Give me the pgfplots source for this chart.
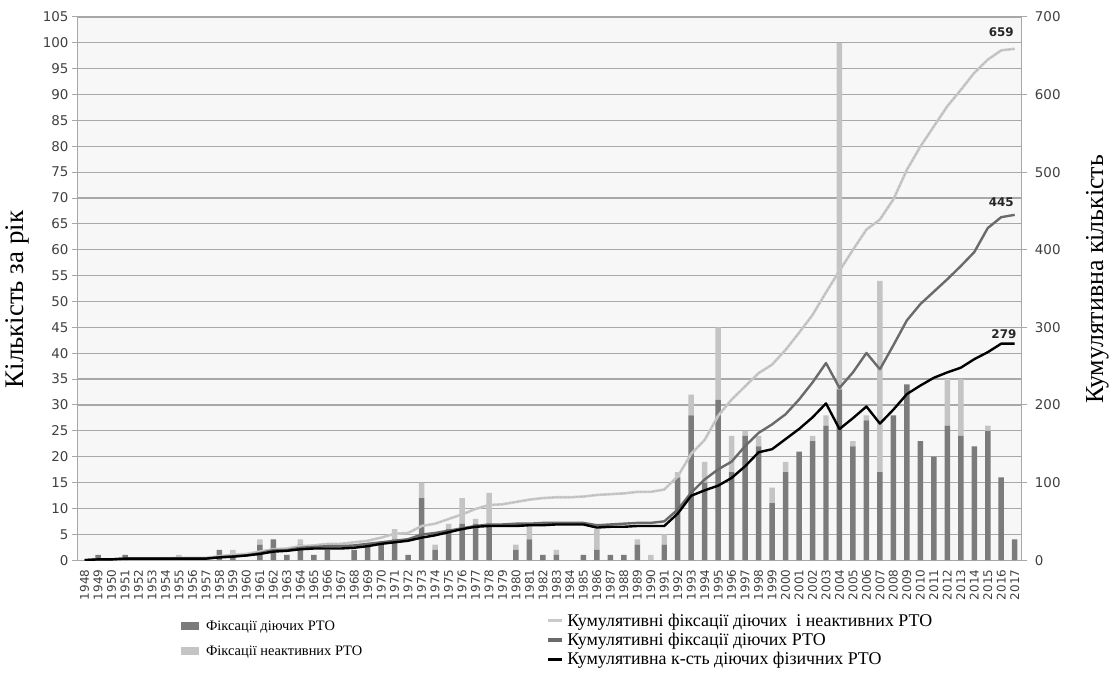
\documentclass[border=0pt]{standalone}
\usepackage{fontspec}
\setmainfont{Liberation Serif}
\newfontfamily\dv{DejaVu Sans}
\usepackage{pgfplots}
\usepackage{pgfplotstable}
\pgfplotsset{compat=1.18}

\definecolor{actc}{HTML}{7B7B7B}
\definecolor{inac}{HTML}{C4C4C4}
\definecolor{bgc}{HTML}{F7F7F7}
\definecolor{gridc}{HTML}{A8A8A8}
\definecolor{lcum}{HTML}{C9C9C9}
\definecolor{dcum}{HTML}{6A6A6A}

% year, active, inactive (per year)
\pgfplotstableread{
year act inact
1948 0 0
1949 1 0
1950 0 0
1951 1 0
1952 0 0
1953 0 0
1954 0 0
1955 0 1
1956 0 0
1957 0 0
1958 2 0
1959 1 1
1960 0 0
1961 3 1
1962 4 0
1963 1 0
1964 3 1
1965 1 0
1966 2 0
1967 0 0
1968 2 0
1969 3 0
1970 3 0
1971 4 2
1972 1 0
1973 12 3
1974 2 1
1975 6 1
1976 7 5
1977 7 1
1978 7 6
1979 0 0
1980 2 1
1981 4 3
1982 1 0
1983 1 1
1984 0 0
1985 1 0
1986 2 4
1987 1 0
1988 1 0
1989 3 1
1990 0 1
1991 3 2
1992 16 1
1993 28 4
1994 15 4
1995 31 14
1996 17 7
1997 24 1
1998 22 2
1999 11 3
2000 17 2
2001 21 0
2002 23 1
2003 26 2
2004 33 67
2005 22 1
2006 27 1
2007 17 37
2008 28 0
2009 34 0
2010 23 0
2011 20 0
2012 26 9
2013 24 11
2014 22 0
2015 25 1
2016 16 0
2017 4 0
}\bars

% cumulative series (right axis)
\pgfplotstableread{
year all act phys
1948 0 0 0
1949 1 1 1
1950 1 1 1
1951 2 2 2
1952 2 2 2
1953 2 2 2
1954 2 2 2
1955 3 2 2
1956 3 2 2
1957 3 2 2
1958 5 4 3.5
1959 7 5 4.5
1960 8 6 6
1961 11 9 8
1962 14 13 11
1963 15 13 12
1964 18 16 14
1965 19 17 15
1966 21 18 15
1967 21 18 15
1968 23 19 16
1969 25 21 18
1970 29 23 21
1971 34 25 23
1972 35 27 25
1973 44 33 29
1974 47 35 32
1975 53 38 36
1976 59 41 40
1977 66 44 43
1978 71 46 44
1979 72 46 44
1980 75 47 44
1981 78 47 45
1982 80 48 45
1983 81 48 46
1984 81 48 46
1985 82 48 46
1986 84 45 42
1987 85 46 43
1988 86 47 43
1989 88 48 44
1990 88 48 44
1991 91 50 44
1992 108 65 60
1993 137 87 83
1994 155 104 90
1995 186 117 96
1996 207 127 106
1997 224 147 121
1998 241 164 139
1999 252 175 143
2000 271 188 156
2001 293 207 169
2002 316 229 184
2003 345 254 202
2004 373 222 169
2005 400 242 183
2006 426 267 198
2007 439 246 176
2008 465 277 194
2009 503 309 214
2010 533 330 225
2011 559 346 235
2012 585 362 242
2013 606 379 248
2014 628 397 259
2015 645 428 268
2016 657 442 279
2017 659 445 279
}\cums

\pgfplotsset{
  common/.style={
    scale only axis, width=945bp, height=544bp,
    xmin=1947.5, xmax=2017.5,
    /pgf/number format/assume math mode=true,
    ticklabel style={font=\dv\fontsize{13.5}{15}\selectfont, text=black!75},
    tick style={gridc, line width=1bp},
    tick align=outside,
    major tick length=6bp,
    axis line style={gridc, line width=1.2bp},
  },
}

\begin{document}
\begin{tikzpicture}
\begin{axis}[common, name=main,
  ymin=0, ymax=105, ytick={0,5,...,105},
  ytick pos=left,
  ymajorgrids, grid style={gridc, line width=1.2bp},
  axis background/.style={fill=bgc},
  xtick=data,
  x tick label style={rotate=90, anchor=east, font=\dv\fontsize{12}{13}\selectfont,
    /pgf/number format/1000 sep=},
  xtick pos=bottom,
  xtick style={draw=none},
  minor xtick={1947.5,1948.5,...,2017.5},
  minor tick length=5bp,
  minor tick style={gridc, line width=1bp},
  ybar stacked, bar width=5.5bp,
  legend style={at={(axis description cs:0.106,-0.104)}, anchor=north west,
    draw=none, fill=none, font=\fontsize{14.5}{16}\selectfont,
    row sep=10bp, cells={anchor=west}},
]
  \addplot[fill=actc, draw=none,
    legend image code/.code={\fill[actc] (0bp,-4bp) rectangle (18bp,4bp); \path (23bp,0bp);}]
    table[x=year, y=act] {\bars};
  \addlegendentry{Фіксації діючих РТО}
  \addplot[fill=inac, draw=none,
    legend image code/.code={\fill[inac] (0bp,-4bp) rectangle (18bp,4bp); \path (23bp,0bp);}]
    table[x=year, y=inact] {\bars};
  \addlegendentry{Фіксації неактивних РТО}
\end{axis}

\begin{axis}[common,
  ymin=0, ymax=700, ytick={0,100,...,700},
  axis y line*=right, axis x line=none,
  y tick label style={xshift=4bp},
  legend style={at={(axis description cs:0.493,-0.091)}, anchor=north west,
    draw=none, fill=none, font=\fontsize{18}{19}\selectfont,
    row sep=1.5bp, cells={anchor=west}},
]
  \addplot[lcum, line width=2.6bp, line join=round,
    legend image code/.code={\draw[lcum, line width=3.5bp] (0bp,0bp) -- (14bp,0bp); \path (16bp,0bp);}]
    table[x=year, y=all] {\cums};
  \addlegendentry{Кумулятивні фіксації діючих\ \ і неактивних РТО}
  \addplot[gray!65, line width=0.4bp, dash pattern=on 2bp off 2bp, forget plot]
    table[x=year, y=all] {\cums};
  \addplot[dcum, line width=2.4bp, line join=round,
    legend image code/.code={\draw[dcum, line width=3.5bp] (0bp,0bp) -- (14bp,0bp); \path (16bp,0bp);}]
    table[x=year, y=act] {\cums};
  \addlegendentry{Кумулятивні фіксації діючих РТО}
  \addplot[black, line width=2.4bp, line join=round,
    legend image code/.code={\draw[black, line width=3.5bp] (0bp,0bp) -- (14bp,0bp); \path (16bp,0bp);}]
    table[x=year, y=phys] {\cums};
  \addlegendentry{Кумулятивна к-сть діючих фізичних РТО}

  \node[font=\dv\bfseries\fontsize{12}{14}\selectfont, text=black!85] at (axis cs:2016.0,681) {659};
  \node[font=\dv\bfseries\fontsize{12}{14}\selectfont, text=black!85] at (axis cs:2016.0,461) {445};
  \node[font=\dv\bfseries\fontsize{12}{14}\selectfont, text=black!85] at (axis cs:2016.2,291) {279};
\end{axis}

\node[rotate=90, font=\fontsize{27}{29}\selectfont] at ([xshift=-61bp,yshift=-11bp]main.west) {Кількість за рік};
\node[rotate=90, font=\fontsize{26}{28}\selectfont] at ([xshift=76bp,yshift=9bp]main.east) {Кумулятивна кількість};

\path[use as bounding box] ([xshift=-78bp,yshift=-113bp]main.south west) rectangle ([xshift=89bp,yshift=17bp]main.north east);
\end{tikzpicture}
\end{document}
